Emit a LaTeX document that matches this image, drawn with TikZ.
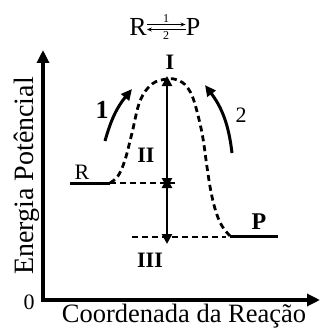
\documentclass[tikz,border=0pt]{standalone}
\usepackage{fontspec}
\setmainfont{Liberation Serif}
\usepackage{tikz}
\usetikzlibrary{arrows.meta, calc}

\begin{document}
\begin{tikzpicture}[
    x=1pt, y=-1pt,
    axis/.style={line width=3.2pt, -{Triangle[length=13pt, width=12pt]}},
    level/.style={line width=3pt},
    dashlevel/.style={line width=2.8pt, dash pattern=on 6pt off 4pt},
    gap/.style={line width=2.8pt, {Triangle[length=10pt, width=10pt]}-{Triangle[length=10pt, width=10pt]}},
    way/.style={line width=3pt, -{Triangle[length=11pt, width=10pt]}},
    biglabel/.style={font=\fontsize{28}{30}\selectfont, inner sep=0pt},
    tag/.style={font=\fontsize{22}{24}\selectfont\bfseries, inner sep=0pt},
    plain/.style={font=\fontsize{22}{24}\selectfont, inner sep=0pt}
]
    \useasboundingbox (0,0) rectangle (320,329);

    % axes
    \coordinate (origin) at (43,300);
    \coordinate (ytip) at (43,50);
    \coordinate (xtip) at (320,300);
    \draw[axis] ([yshift=-1.6pt]origin) -- (ytip);
    \draw[axis] ([xshift=-1.6pt]origin) -- (xtip);
    \node[plain] (zero) at (29,302) {0};
    \node[biglabel, font=\fontsize{26.5}{29}\selectfont, anchor=base] (xlab) at (184,322) {Coordenada da Reação};
    \node[biglabel, anchor=base, rotate=90] (ylab) at (33,176) {Energia Potêncial};

    % reaction scheme
    \node[font=\fontsize{26}{28}\selectfont, inner sep=0pt] (rtop) at (138,27) {R};
    \node[font=\fontsize{26}{28}\selectfont, inner sep=0pt] (ptop) at (193,27) {P};
    \draw[line width=1.2pt, -{Stealth[length=5pt, width=4pt]}] ([yshift=2.5pt]rtop.east) -- ([yshift=2.5pt]ptop.west)
        node[midway, above=1pt, font=\fontsize{12}{13}\selectfont, inner sep=0pt] (kone) {1};
    \draw[line width=1.2pt, -{Stealth[length=5pt, width=4pt]}] ([yshift=-2.5pt]ptop.west) -- ([yshift=-2.5pt]rtop.east)
        node[midway, below=1pt, font=\fontsize{12}{13}\selectfont, inner sep=0pt] (ktwo) {2};

    % energy levels
    \coordinate (rleft) at (70,183);
    \coordinate (rright) at (110,183);
    \coordinate (pleft) at (230,236);
    \coordinate (pright) at (278,236);
    \coordinate (peak) at (167,79);
    \coordinate (rmid) at (167,183);
    \coordinate (pmid) at (167,237);
    \draw[level] (rleft) -- (rright);
    \draw[level] (pleft) -- (pright);
    \draw[dashlevel] (rright) -- (175,183);
    \draw[dashlevel] (132,237) -- (226,237);
    \draw[dashlevel] plot[smooth, tension=0.6] coordinates {(110,183) (118,176) (125,160) (132,133) (140,101) (152,84) (167,79) (178,80) (187,87) (194,101) (202,133) (207,167) (211,192) (216,212) (222,226) (230,236)};

    \node[plain] (rlab) at (82,172) {R};
    \node[tag, font=\fontsize{24}{26}\selectfont\bfseries] (plab) at (259,222) {P};

    % energy differences
    \draw[gap] ([yshift=3pt]peak) -- ([yshift=-5pt]rmid);
    \draw[gap] ([yshift=5pt]rmid) -- ([yshift=-7pt]pmid);
    \node[tag] (one) at (170,62) {I};
    \node[tag] (two) at (146,155) {II};
    \node[tag] (three) at (150,260) {III};

    % directions
    \coordinate (fwds) at (105,141);
    \coordinate (fwde) at (132,89);
    \coordinate (bwds) at (232,153);
    \coordinate (bwde) at (205,85);
    \draw[way] (fwds) to[bend left=12] (fwde);
    \draw[way] (bwds) to[bend right=15] (bwde);
    \node[tag, font=\fontsize{26}{28}\selectfont\bfseries] (fwdlab) at (102,110) {1};
    \node[plain] (bwdlab) at (241,115) {2};
\end{tikzpicture}
\end{document}
